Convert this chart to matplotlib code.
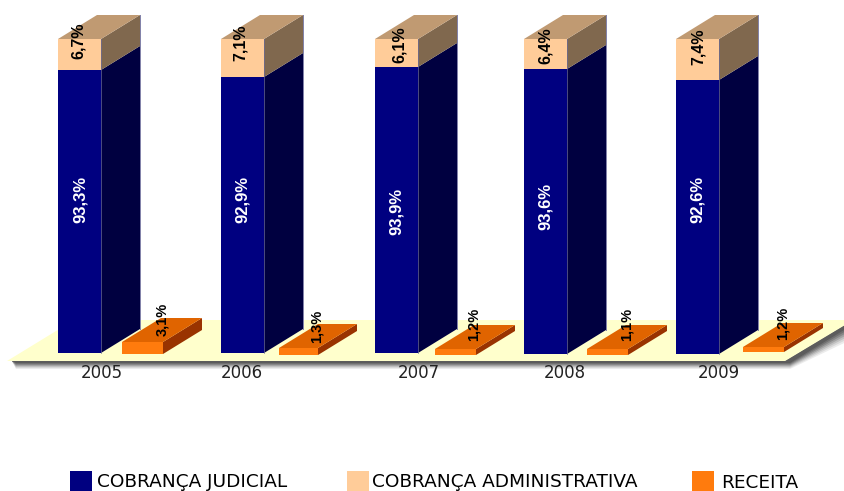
import matplotlib
matplotlib.use("Agg")
import matplotlib.pyplot as plt
from matplotlib.patches import Polygon, Rectangle

years = ["2005", "2006", "2007", "2008", "2009"]
judicial = [93.3, 92.9, 93.9, 93.6, 92.6]
administrativa = [6.7, 7.1, 6.1, 6.4, 7.4]
receita = [3.1, 1.3, 1.2, 1.1, 1.2]

# the source chart is not to scale, so the drawn heights are read separately
judicial_height = [283, 276, 286, 285, 274]
administrativa_height = [31, 38, 28, 30, 41]
receita_height = [12, 7, 6, 6, 5]

# layout, in pixels
bar_left = [58, 221, 375, 524, 676]
bar_base = [353, 353, 353, 354, 354]
small_left = [122, 279, 435, 587, 743]
small_width = [41, 39, 41, 41, 41]
small_base = [354, 355, 355, 355, 352]
year_x = [102, 242, 419, 565, 719]
judicial_label = [(80, 199), (242, 199), (396, 211), (545, 206), (697, 199)]
admin_label = [(78, 41), (240, 43), (399, 45), (545, 46), (698, 47)]
receita_label = [(162, 319), (317, 326), (474, 324), (627, 324), (783, 323)]
bar_width = 43
dx, dy = 39, 24

LABEL_FONT = ["Liberation Sans", "DejaVu Sans"]


def box(ax, left, width, base, height, front, side, top=None, zorder=3):
    y = base - height
    ax.add_patch(Rectangle((left, y), width, height, fc=front, ec="none", zorder=zorder))
    ax.add_patch(Polygon([(left + width, y), (left + width + dx, y - dy),
                          (left + width + dx, base - dy), (left + width, base)],
                         fc=side, ec="none", zorder=zorder))
    if top is not None:
        ax.add_patch(Polygon([(left, y), (left + dx, y - dy), (left + width + dx, y - dy),
                              (left + width, y)], fc=top, ec="none", zorder=zorder))


def pct(value):
    return f"{value:.1f}%".replace(".", ",")


fig = plt.figure(figsize=(8.45, 4.91), dpi=100)
ax = fig.add_axes([0, 0, 1, 1])
ax.set_xlim(0, 845)
ax.set_ylim(491, 0)
ax.axis("off")

# floor shadow, darker towards the floor edge
shades = ["#ececec", "#d8d8d8", "#c0c0c0", "#a4a4a4", "#888888", "#707070", "#5c5c5c"]
for off, col in zip([8, 7, 6, 5, 4, 3, 2], shades):
    ax.add_patch(Polygon([(12, 361), (785, 361), (845, 325), (845, 325 + off * 2.2),
                          (790, 361 + off), (16, 361 + off)], fc=col, ec="none", zorder=1))
ax.add_patch(Polygon([(7, 361), (74, 320), (845, 320), (845, 325), (785, 361)],
                     fc="#ffffcc", ec="none", zorder=2))

for i in range(len(years)):
    left = bar_left[i]
    base = bar_base[i]
    box(ax, left, bar_width, base, judicial_height[i], "#000080", "#000040", zorder=3)
    ax.plot([left + bar_width + dx] * 2, [39 - dy, base - dy], color="#8080a8", lw=0.7, zorder=3)
    box(ax, left, bar_width, base - judicial_height[i], administrativa_height[i],
        "#ffcc99", "#80684e", "#c09a72", zorder=4)
    ax.plot([left + bar_width] * 2, [39, base], color="#6a6a9a", lw=0.5, zorder=5)
    box(ax, small_left[i], small_width[i], small_base[i], receita_height[i],
        "#ff7b0d", "#993300", "#e06400", zorder=4)

    ax.text(year_x[i], 373, years[i], ha="center", va="center", fontsize=12, color="#222222")
    x, y = judicial_label[i]
    ax.text(x, y, pct(judicial[i]), rotation=90, ha="center", va="center",
            color="white", fontsize=12, fontweight="bold", family=LABEL_FONT, zorder=6)
    x, y = admin_label[i]
    ax.text(x, y, pct(administrativa[i]), rotation=90, ha="center", va="center",
            color="black", fontsize=11.5, fontweight="bold", family=LABEL_FONT, zorder=6)
    x, y = receita_label[i]
    ax.text(x, y, pct(receita[i]), rotation=90, ha="center", va="center",
            color="black", fontsize=10.5, fontweight="bold", family=LABEL_FONT, zorder=6)

# legend
legend = [("COBRANÇA JUDICIAL", "#000080", 70, 97, 482),
          ("COBRANÇA ADMINISTRATIVA", "#ffcc99", 347, 372, 482),
          ("RECEITA", "#ff7b0d", 692, 721, 483)]
for name, col, sq, tx, ty in legend:
    ax.add_patch(Rectangle((sq, 471), 22, 20, fc=col, ec="none"))
    ax.text(tx, ty, name, ha="left", va="center", fontsize=13.3, color="black",
            family="DejaVu Sans")

fig.savefig("out.png", dpi=100, facecolor="white")
